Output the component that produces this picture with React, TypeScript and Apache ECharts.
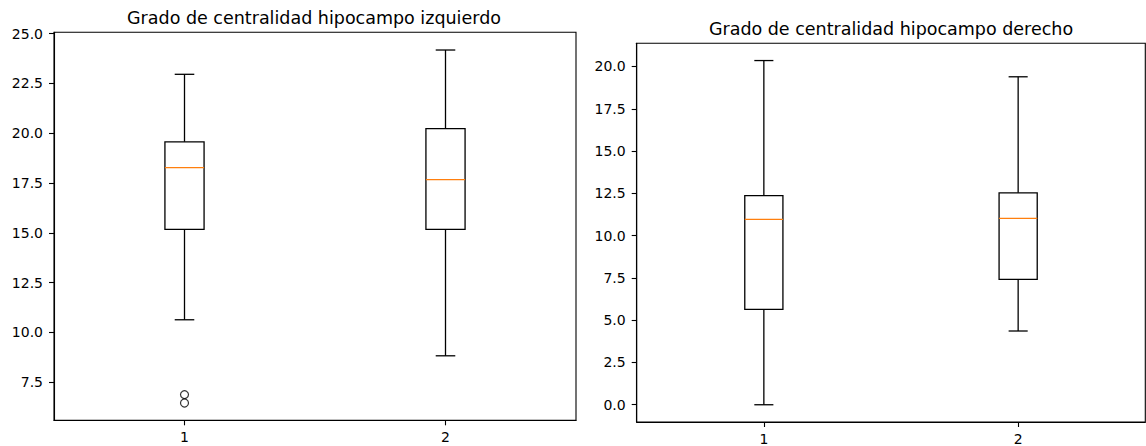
import React, { useEffect, useRef } from "react";
import * as echarts from "echarts";

const categories = [1, 2];
const categoryLabels = ["1", "2"];

// Left: Grado de centralidad hipocampo izquierdo
const leftTitle = "Grado de centralidad hipocampo izquierdo";
const leftLow = [10.63, 8.82];
const leftQ1 = [15.17, 15.17];
const leftMedian = [18.27, 17.67];
const leftQ3 = [19.57, 20.23];
const leftHigh = [22.96, 24.18];
const leftOutliers = [[1, 6.87], [1, 6.45]];
const leftTicks = [7.5, 10, 12.5, 15, 17.5, 20, 22.5, 25];

// Right: Grado de centralidad hipocampo derecho
const rightTitle = "Grado de centralidad hipocampo derecho";
const rightLow = [0.0, 4.36];
const rightQ1 = [5.64, 7.41];
const rightMedian = [10.96, 11.02];
const rightQ3 = [12.36, 12.53];
const rightHigh = [20.35, 19.39];
const rightOutliers: number[][] = [];
const rightTicks = [0, 2.5, 5, 7.5, 10, 12.5, 15, 17.5, 20];

const FONT = "DejaVu Sans";

function boxData(low: number[], q1: number[], med: number[], q3: number[], high: number[]) {
  return categories.map((c, i) => [c, low[i], q1[i], med[i], q3[i], high[i]]);
}

function renderBox(params: any, api: any) {
  const x = api.value(0);
  const pLow = api.coord([x, api.value(1)]);
  const pQ1 = api.coord([x, api.value(2)]);
  const pMed = api.coord([x, api.value(3)]);
  const pQ3 = api.coord([x, api.value(4)]);
  const pHigh = api.coord([x, api.value(5)]);
  const w = api.size([0.15, 0])[0];
  const cx = pLow[0];
  const st = { stroke: "#000", lineWidth: 1.3, fill: null };
  return {
    type: "group",
    children: [
      { type: "line", shape: { x1: cx, y1: pLow[1], x2: cx, y2: pQ1[1] }, style: st },
      { type: "line", shape: { x1: cx, y1: pQ3[1], x2: cx, y2: pHigh[1] }, style: st },
      { type: "line", shape: { x1: cx - w / 4, y1: pLow[1], x2: cx + w / 4, y2: pLow[1] }, style: st },
      { type: "line", shape: { x1: cx - w / 4, y1: pHigh[1], x2: cx + w / 4, y2: pHigh[1] }, style: st },
      {
        type: "rect",
        shape: { x: cx - w / 2, y: pQ3[1], width: w, height: pQ1[1] - pQ3[1] },
        style: { stroke: "#000", lineWidth: 1.3, fill: "none" },
      },
      {
        type: "line",
        shape: { x1: cx - w / 2, y1: pMed[1], x2: cx + w / 2, y2: pMed[1] },
        style: { stroke: "#ff7f0e", lineWidth: 1.4 },
      },
    ],
  };
}

function xAxisCfg(gridIndex: number) {
  return {
    type: "value",
    gridIndex,
    min: 0.5,
    max: 2.5,
    axisLine: { show: true, onZero: false, lineStyle: { color: "#000", width: 1.1 } },
    axisTick: { show: true, inside: false, length: 5, customValues: categories, lineStyle: { color: "#000", width: 1.1 } },
    axisLabel: {
      show: true,
      customValues: categories,
      margin: 10,
      color: "#000",
      fontSize: 14,
      fontFamily: FONT,
      formatter: (v: number) => categoryLabels[categories.indexOf(v)] ?? String(v),
    },
    splitLine: { show: false },
  };
}

function yAxisCfg(gridIndex: number, min: number, max: number, ticks: number[]) {
  return {
    type: "value",
    gridIndex,
    min,
    max,
    axisLine: { show: true, onZero: false, lineStyle: { color: "#000", width: 1.1 } },
    axisTick: { show: true, inside: false, length: 5, customValues: ticks, lineStyle: { color: "#000", width: 1.1 } },
    axisLabel: {
      show: true,
      customValues: ticks,
      margin: 11,
      color: "#000",
      fontSize: 14,
      fontFamily: FONT,
      formatter: (v: number) => v.toFixed(1),
    },
    splitLine: { show: false },
  };
}

export default function App() {
  const ref = useRef<HTMLDivElement>(null);
  useEffect(() => {
    if (!ref.current) return;
    const chart = echarts.init(ref.current, undefined, { renderer: "svg" });
    chart.setOption({
      animation: false,
      backgroundColor: "#fff",
      grid: [
        { left: 54, top: 32.3, width: 522, height: 388, show: true, borderColor: "#000", borderWidth: 1.1, backgroundColor: "transparent" },
        { left: 636.7, top: 43.3, width: 508.6, height: 379, show: true, borderColor: "#000", borderWidth: 1.1, backgroundColor: "transparent" },
      ],
      xAxis: [xAxisCfg(0), xAxisCfg(1)],
      yAxis: [yAxisCfg(0, 5.58, 25.07, leftTicks), yAxisCfg(1, -1.02, 21.37, rightTicks)],
      graphic: [
        {
          type: "text",
          x: 314,
          y: 17.5,
          style: { text: leftTitle, fontSize: 17.5, fontFamily: FONT, fill: "#000", textAlign: "center", textVerticalAlign: "middle" },
        },
        {
          type: "text",
          x: 891,
          y: 29,
          style: { text: rightTitle, fontSize: 17.5, fontFamily: FONT, fill: "#000", textAlign: "center", textVerticalAlign: "middle" },
        },
      ],
      series: [
        {
          type: "custom",
          xAxisIndex: 0,
          yAxisIndex: 0,
          renderItem: renderBox,
          encode: { x: 0, y: [1, 2, 3, 4, 5] },
          data: boxData(leftLow, leftQ1, leftMedian, leftQ3, leftHigh),
        },
        {
          type: "scatter",
          xAxisIndex: 0,
          yAxisIndex: 0,
          symbol: "circle",
          symbolSize: 8,
          itemStyle: { color: "rgba(0,0,0,0)", borderColor: "#000", borderWidth: 1.2 },
          data: leftOutliers,
        },
        {
          type: "custom",
          xAxisIndex: 1,
          yAxisIndex: 1,
          renderItem: renderBox,
          encode: { x: 0, y: [1, 2, 3, 4, 5] },
          data: boxData(rightLow, rightQ1, rightMedian, rightQ3, rightHigh),
        },
        {
          type: "scatter",
          xAxisIndex: 1,
          yAxisIndex: 1,
          symbol: "circle",
          symbolSize: 8,
          itemStyle: { color: "rgba(0,0,0,0)", borderColor: "#000", borderWidth: 1.2 },
          data: rightOutliers,
        },
      ],
    });
    return () => chart.dispose();
  }, []);
  return (
    <div
      ref={ref}
      style={{ position: "fixed", left: 0, top: 0, width: 1146, height: 446 }}
    />
  );
}
